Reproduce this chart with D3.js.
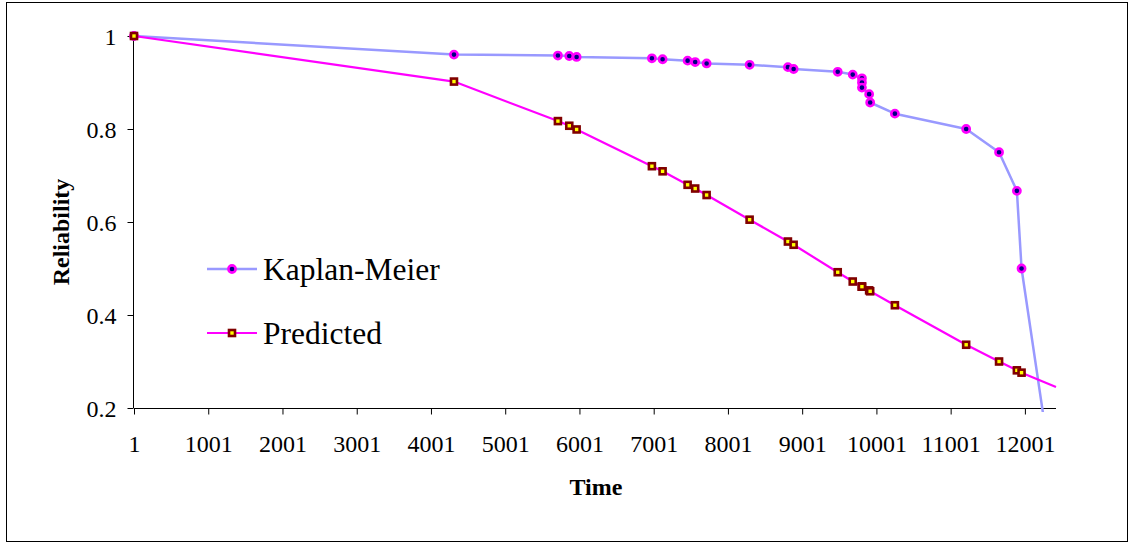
<!DOCTYPE html>
<html>
<head>
<meta charset="utf-8">
<script src="https://cdn.jsdelivr.net/npm/d3@7"></script>
<style>
  html, body { margin: 0; padding: 0; background: #fff; }
  svg { display: block; }
  text { font-family: "Times New Roman", "Liberation Serif", "DejaVu Serif", serif; fill: #000; }
</style>
</head>
<body>
<svg id="chart" width="1136" height="550"></svg>
<script>
// Failure / censoring times
const times = [1, 4311, 5711, 5864, 5963, 6977, 7121, 7458, 7560, 7714, 8293, 8809, 8886,
  9480, 9682, 9806, 9806, 9806, 9903, 9917, 10250, 11210, 11653, 11893, 11956, 12420];

// Kaplan-Meier product-limit estimate of reliability
const kaplanMeier = [1, 0.96, 0.958, 0.957, 0.955, 0.952, 0.95, 0.947, 0.944, 0.941, 0.938,
  0.933, 0.929, 0.923, 0.917, 0.909, 0.9, 0.889, 0.875, 0.857, 0.833, 0.8, 0.75, 0.667, 0.5, 0];

// Fitted (predicted) reliability at the same times
const predicted = [1, 0.902, 0.817, 0.807, 0.799, 0.72, 0.709, 0.68, 0.672, 0.658, 0.605,
  0.558, 0.551, 0.492, 0.472, 0.461, 0.461, 0.461, 0.453, 0.451, 0.421, 0.336, 0.3, 0.281, 0.276, 0.245];

const xTicks = [1, 1001, 2001, 3001, 4001, 5001, 6001, 7001, 8001, 9001, 10001, 11001, 12001];
const yTicks = [0.2, 0.4, 0.6, 0.8, 1];
const seriesNames = ["Kaplan-Meier", "Predicted"];

const X_MIN = 1, X_MAX = 12420;

const svg = d3.select("#chart");

// outer frame
svg.append("rect")
  .attr("x", 6.5).attr("y", 2.5)
  .attr("width", 1121).attr("height", 539)
  .attr("fill", "#fff").attr("stroke", "#000").attr("stroke-width", 1);

const plot = { left: 134, right: 1056, top: 36, bottom: 408 };

const x = d3.scaleLinear().domain([X_MIN, X_MAX]).range([plot.left, plot.right]);
const y = d3.scaleLinear().domain([0.2, 1]).range([plot.bottom, plot.top]);

const kmData = times.map((t, i) => ({ t, v: kaplanMeier[i] }));
const prData = times.map((t, i) => ({ t, v: predicted[i] }));

// clip so the series stop at the plot edges
svg.append("defs").append("clipPath").attr("id", "plotClip")
  .append("rect")
  .attr("x", plot.left - 8).attr("y", plot.top - 8)
  .attr("width", plot.right - plot.left + 10)
  .attr("height", plot.bottom - plot.top + 12);

// axes
const xAxis = d3.axisBottom(x).tickValues(xTicks).tickSize(6).tickSizeOuter(0)
  .tickFormat(d3.format("d"));
const gx = svg.append("g")
  .attr("transform", `translate(0,${plot.bottom + 0.5})`)
  .call(xAxis);
gx.select(".domain").attr("stroke", "#000").attr("d", `M${plot.left},0H${plot.right}`);
gx.selectAll(".tick line").attr("stroke", "#000");
gx.selectAll(".tick text")
  .attr("y", 26).attr("dy", "0.71em")
  .style("font-size", "24px");
gx.attr("font-family", null).attr("font-size", null);

const yAxis = d3.axisLeft(y).tickValues(yTicks).tickSize(6).tickSizeOuter(0)
  .tickFormat(d => d === 1 ? "1" : d3.format(".1f")(d));
const gy = svg.append("g")
  .attr("transform", `translate(${plot.left - 0.5},0)`)
  .call(yAxis);
gy.select(".domain").attr("stroke", "#000").attr("d", `M0,${plot.top}V${plot.bottom}`);
gy.selectAll(".tick line").attr("stroke", "#000");
gy.selectAll(".tick text")
  .attr("x", -17).attr("dy", "0.35em")
  .style("font-size", "24px");
gy.attr("font-family", null).attr("font-size", null);

// axis titles
svg.append("text")
  .attr("x", (plot.left + plot.right) / 2 + 1).attr("y", 495)
  .attr("text-anchor", "middle")
  .style("font-size", "24px").style("font-weight", "bold")
  .text("Time");

svg.append("text")
  .attr("transform", "translate(69,232) rotate(-90)")
  .attr("text-anchor", "middle")
  .style("font-size", "24px").style("font-weight", "bold")
  .text("Reliability");

const line = d3.line().x(d => x(d.t)).y(d => y(d.v));

const series = svg.append("g").attr("clip-path", "url(#plotClip)");

// Kaplan-Meier series
series.append("path")
  .datum(kmData)
  .attr("d", line)
  .attr("fill", "none").attr("stroke", "#9999FF").attr("stroke-width", 2.5)
  .attr("stroke-linejoin", "round");

function kmMarker(sel) {
  sel.attr("r", 3.6).attr("fill", "#000080").attr("stroke", "#FF00FF").attr("stroke-width", 2.6);
}
function prMarker(sel) {
  sel.attr("width", 6).attr("height", 6)
    .attr("fill", "#FFFF00").attr("stroke", "#800000").attr("stroke-width", 2.6);
}

svg.append("g").selectAll("circle")
  .data(kmData.filter(d => d.t < X_MAX && d.v >= 0.2))
  .join("circle")
  .attr("cx", d => x(d.t)).attr("cy", d => y(d.v))
  .call(kmMarker);

// Predicted series
series.append("path")
  .datum(prData)
  .attr("d", line)
  .attr("fill", "none").attr("stroke", "#FF00FF").attr("stroke-width", 2.2)
  .attr("stroke-linejoin", "round");

svg.append("g").selectAll("rect")
  .data(prData.filter(d => d.t < X_MAX))
  .join("rect")
  .attr("x", d => x(d.t) - 3).attr("y", d => y(d.v) - 3)
  .call(prMarker);

// legend
const legend = svg.append("g").attr("transform", "translate(207,269)");
const rowGap = 64;
seriesNames.forEach((name, i) => {
  const g = legend.append("g").attr("transform", `translate(0,${i * rowGap})`);
  g.append("line").attr("x1", 0).attr("x2", 50).attr("y1", 0).attr("y2", 0)
    .attr("stroke", i === 0 ? "#9999FF" : "#FF00FF").attr("stroke-width", i === 0 ? 2.5 : 2.2);
  if (i === 0) {
    g.append("circle").attr("cx", 25).attr("cy", 0).call(kmMarker);
  } else {
    g.append("rect").attr("x", 22).attr("y", -3).call(prMarker);
  }
  g.append("text").attr("x", 56).attr("y", 11)
    .style("font-size", "31.5px")
    .text(name);
});
</script>
</body>
</html>
